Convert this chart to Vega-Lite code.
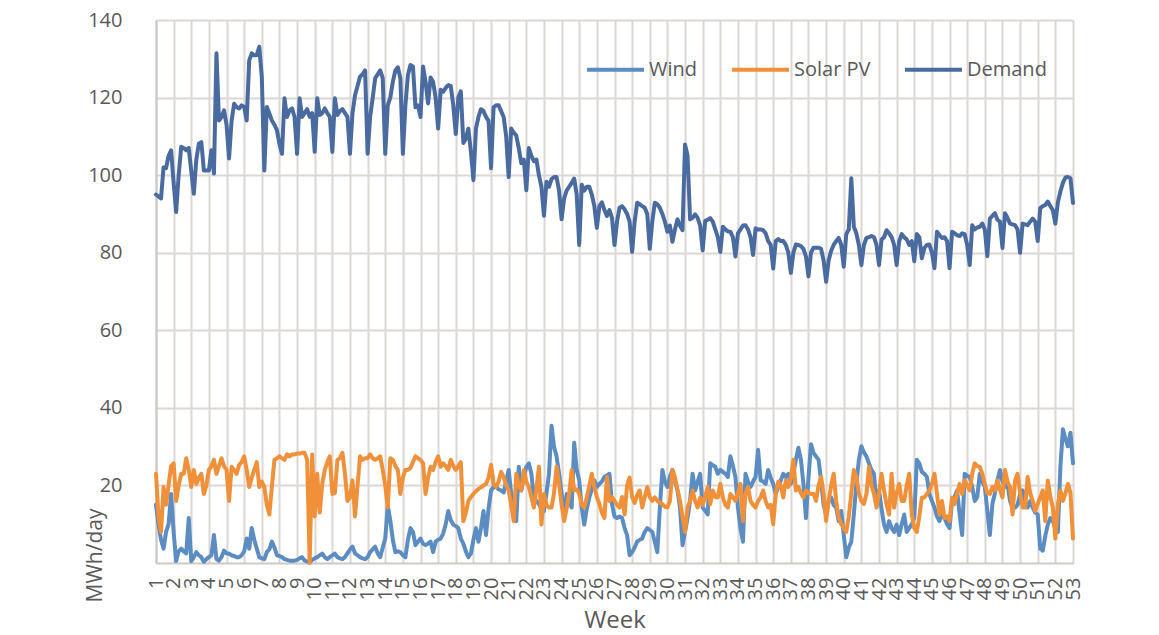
{
"$schema":"https://vega.github.io/schema/vega-lite/v6.json",
"width":917,"height":543,
"autosize":{"type":"none"},
"padding":{"left":156,"top":20,"right":86,"bottom":72},
"background":"white",
"config":{"view":{"stroke":null},"font":"Open Sans"},
"data":{"values":[
{"d":0,"Wind":15,"Solar PV":23,"Demand":95},{"d":1,"Wind":10,"Solar PV":12,"Demand":94.5},{"d":2,"Wind":6,"Solar PV":8,"Demand":94},{"d":3,"Wind":3.7,"Solar PV":19.6,"Demand":102},{"d":4,"Wind":8,"Solar PV":15,"Demand":101.8},{"d":5,"Wind":10,"Solar PV":20,"Demand":105},{"d":6,"Wind":17.8,"Solar PV":25,"Demand":106.4},
{"d":7,"Wind":8,"Solar PV":25.7,"Demand":98},{"d":8,"Wind":0.5,"Solar PV":16,"Demand":90.5},{"d":9,"Wind":3,"Solar PV":20,"Demand":100},{"d":10,"Wind":3.7,"Solar PV":23,"Demand":107.3},{"d":11,"Wind":3,"Solar PV":23,"Demand":107},{"d":12,"Wind":2.5,"Solar PV":27,"Demand":106.4},{"d":13,"Wind":11.6,"Solar PV":24,"Demand":107},
{"d":14,"Wind":0.5,"Solar PV":19.6,"Demand":101},{"d":15,"Wind":1.5,"Solar PV":24,"Demand":95.2},{"d":16,"Wind":2.8,"Solar PV":20.4,"Demand":104},{"d":17,"Wind":2,"Solar PV":22,"Demand":108.1},{"d":18,"Wind":1.5,"Solar PV":23,"Demand":108.5},{"d":19,"Wind":0.3,"Solar PV":17.8,"Demand":101.2},{"d":20,"Wind":1,"Solar PV":20,"Demand":101.2},
{"d":21,"Wind":1.5,"Solar PV":24,"Demand":101.2},{"d":22,"Wind":2,"Solar PV":25,"Demand":106.4},{"d":23,"Wind":7.2,"Solar PV":26.6,"Demand":100.4},{"d":24,"Wind":1,"Solar PV":23,"Demand":131.4},{"d":25,"Wind":0.6,"Solar PV":25,"Demand":114.1},{"d":26,"Wind":1.5,"Solar PV":27,"Demand":115},{"d":27,"Wind":3.2,"Solar PV":25,"Demand":116.7},
{"d":28,"Wind":2.5,"Solar PV":24,"Demand":113},{"d":29,"Wind":2.4,"Solar PV":16,"Demand":104.3},{"d":30,"Wind":2,"Solar PV":24.8,"Demand":114},{"d":31,"Wind":1.8,"Solar PV":24,"Demand":118.4},{"d":32,"Wind":1.5,"Solar PV":23,"Demand":117.5},{"d":33,"Wind":1.5,"Solar PV":25.3,"Demand":117.2},{"d":34,"Wind":2,"Solar PV":26,"Demand":118},
{"d":35,"Wind":3,"Solar PV":27.5,"Demand":117.6},{"d":36,"Wind":6.3,"Solar PV":24,"Demand":114.1},{"d":37,"Wind":3.7,"Solar PV":19.6,"Demand":129.6},{"d":38,"Wind":9,"Solar PV":22,"Demand":131.4},{"d":39,"Wind":6,"Solar PV":24,"Demand":130.9},{"d":40,"Wind":3.7,"Solar PV":26,"Demand":131},{"d":41,"Wind":1.5,"Solar PV":19.6,"Demand":133.1},
{"d":42,"Wind":1.2,"Solar PV":21,"Demand":125.3},{"d":43,"Wind":1,"Solar PV":19.6,"Demand":101.2},{"d":44,"Wind":2.8,"Solar PV":15,"Demand":117.6},{"d":45,"Wind":3.5,"Solar PV":12.5,"Demand":115.9},{"d":46,"Wind":5.5,"Solar PV":19.6,"Demand":114.1},{"d":47,"Wind":4,"Solar PV":26.6,"Demand":113},{"d":48,"Wind":2,"Solar PV":27,"Demand":111.6},
{"d":49,"Wind":1.8,"Solar PV":27.5,"Demand":108},{"d":50,"Wind":1.5,"Solar PV":27,"Demand":105.5},{"d":51,"Wind":1,"Solar PV":26.6,"Demand":119.8},{"d":52,"Wind":0.8,"Solar PV":28,"Demand":115},{"d":53,"Wind":0.6,"Solar PV":27.5,"Demand":116.7},{"d":54,"Wind":0.6,"Solar PV":28,"Demand":117.2},{"d":55,"Wind":0.6,"Solar PV":28,"Demand":115},
{"d":56,"Wind":0.8,"Solar PV":28.2,"Demand":105.5},{"d":57,"Wind":1.2,"Solar PV":28.2,"Demand":119.8},{"d":58,"Wind":1.5,"Solar PV":28.4,"Demand":115},{"d":59,"Wind":0.6,"Solar PV":28.4,"Demand":116},{"d":60,"Wind":0.4,"Solar PV":26.6,"Demand":117},{"d":61,"Wind":0.2,"Solar PV":0,"Demand":115},{"d":62,"Wind":0.8,"Solar PV":28,"Demand":116},
{"d":63,"Wind":1.2,"Solar PV":12,"Demand":106},{"d":64,"Wind":1.5,"Solar PV":23,"Demand":119.8},{"d":65,"Wind":2,"Solar PV":13,"Demand":115.5},{"d":66,"Wind":2.4,"Solar PV":20.4,"Demand":116},{"d":67,"Wind":1.5,"Solar PV":24,"Demand":117.2},{"d":68,"Wind":1,"Solar PV":26,"Demand":116},{"d":69,"Wind":1.5,"Solar PV":27.5,"Demand":115},
{"d":70,"Wind":2,"Solar PV":17.8,"Demand":106},{"d":71,"Wind":2.4,"Solar PV":18,"Demand":119.8},{"d":72,"Wind":1.5,"Solar PV":26.6,"Demand":115.5},{"d":73,"Wind":1.2,"Solar PV":27,"Demand":116.5},{"d":74,"Wind":1,"Solar PV":28.4,"Demand":117},{"d":75,"Wind":1.5,"Solar PV":23,"Demand":116},{"d":76,"Wind":2.5,"Solar PV":16,"Demand":115},
{"d":77,"Wind":3.5,"Solar PV":17,"Demand":105.5},{"d":78,"Wind":4.2,"Solar PV":21.3,"Demand":116},{"d":79,"Wind":2.5,"Solar PV":12,"Demand":120.6},{"d":80,"Wind":2,"Solar PV":20,"Demand":123},{"d":81,"Wind":1.5,"Solar PV":27.5,"Demand":125.4},{"d":82,"Wind":1.2,"Solar PV":26.6,"Demand":126},{"d":83,"Wind":1,"Solar PV":27,"Demand":127},
{"d":84,"Wind":1.5,"Solar PV":27,"Demand":105.5},{"d":85,"Wind":2.8,"Solar PV":28,"Demand":115},{"d":86,"Wind":3.5,"Solar PV":27,"Demand":119.8},{"d":87,"Wind":4.2,"Solar PV":26.6,"Demand":125},{"d":88,"Wind":2.5,"Solar PV":27,"Demand":126},{"d":89,"Wind":1.5,"Solar PV":27.5,"Demand":127},{"d":90,"Wind":4,"Solar PV":24,"Demand":125},
{"d":91,"Wind":6.3,"Solar PV":20,"Demand":105.5},{"d":92,"Wind":14.7,"Solar PV":14.3,"Demand":118},{"d":93,"Wind":11,"Solar PV":27,"Demand":120},{"d":94,"Wind":6,"Solar PV":26.6,"Demand":124},{"d":95,"Wind":2.8,"Solar PV":25,"Demand":127},{"d":96,"Wind":3,"Solar PV":24,"Demand":127.8},{"d":97,"Wind":2.8,"Solar PV":17.8,"Demand":125},
{"d":98,"Wind":2,"Solar PV":22,"Demand":105.5},{"d":99,"Wind":1.5,"Solar PV":24,"Demand":118},{"d":100,"Wind":6,"Solar PV":24,"Demand":125.8},{"d":101,"Wind":9,"Solar PV":24.5,"Demand":128.4},{"d":102,"Wind":8,"Solar PV":26,"Demand":128},{"d":103,"Wind":4.6,"Solar PV":27.5,"Demand":117.5},{"d":104,"Wind":5.5,"Solar PV":27,"Demand":118},
{"d":105,"Wind":6.3,"Solar PV":26.6,"Demand":115},{"d":106,"Wind":5,"Solar PV":25.7,"Demand":128},{"d":107,"Wind":4.6,"Solar PV":17.8,"Demand":124},{"d":108,"Wind":5,"Solar PV":22,"Demand":118.5},{"d":109,"Wind":5.5,"Solar PV":24.8,"Demand":125.2},{"d":110,"Wind":2.8,"Solar PV":24,"Demand":124},{"d":111,"Wind":5.5,"Solar PV":26,"Demand":120},
{"d":112,"Wind":6,"Solar PV":27.5,"Demand":112},{"d":113,"Wind":6.3,"Solar PV":24.8,"Demand":122},{"d":114,"Wind":7.6,"Solar PV":25.7,"Demand":121.5},{"d":115,"Wind":10,"Solar PV":25,"Demand":122.5},{"d":116,"Wind":13.4,"Solar PV":24,"Demand":123.2},{"d":117,"Wind":11,"Solar PV":26.6,"Demand":123},{"d":118,"Wind":9.9,"Solar PV":25,"Demand":118},
{"d":119,"Wind":9.5,"Solar PV":24,"Demand":110.6},{"d":120,"Wind":9,"Solar PV":25,"Demand":120},{"d":121,"Wind":6.3,"Solar PV":26,"Demand":121.6},{"d":122,"Wind":5,"Solar PV":10.8,"Demand":108.3},{"d":123,"Wind":3,"Solar PV":13,"Demand":109.4},{"d":124,"Wind":1.5,"Solar PV":16,"Demand":112},{"d":125,"Wind":2.4,"Solar PV":17,"Demand":106},
{"d":126,"Wind":6,"Solar PV":17.8,"Demand":98.7},{"d":127,"Wind":9,"Solar PV":18.5,"Demand":112},{"d":128,"Wind":5.5,"Solar PV":19.1,"Demand":115},{"d":129,"Wind":9,"Solar PV":19.5,"Demand":117},{"d":130,"Wind":13.4,"Solar PV":20,"Demand":116.5},{"d":131,"Wind":7.2,"Solar PV":20.4,"Demand":115},{"d":132,"Wind":14,"Solar PV":22,"Demand":114},
{"d":133,"Wind":18.7,"Solar PV":25.3,"Demand":101.8},{"d":134,"Wind":19.6,"Solar PV":20.4,"Demand":117.5},{"d":135,"Wind":19.6,"Solar PV":19.6,"Demand":118},{"d":136,"Wind":19,"Solar PV":21,"Demand":118},{"d":137,"Wind":18.7,"Solar PV":23.5,"Demand":116.5},{"d":138,"Wind":18.2,"Solar PV":22.2,"Demand":115},{"d":139,"Wind":21,"Solar PV":20,"Demand":110},
{"d":140,"Wind":24,"Solar PV":18.7,"Demand":99.5},{"d":141,"Wind":17.8,"Solar PV":15,"Demand":112},{"d":142,"Wind":12,"Solar PV":10.8,"Demand":111},{"d":143,"Wind":10.8,"Solar PV":23,"Demand":110.2},{"d":144,"Wind":24.8,"Solar PV":20,"Demand":107},{"d":145,"Wind":18.7,"Solar PV":18.7,"Demand":103.1},{"d":146,"Wind":22,"Solar PV":24,"Demand":104},
{"d":147,"Wind":24.8,"Solar PV":21,"Demand":96.1},{"d":148,"Wind":25.7,"Solar PV":19.6,"Demand":107},{"d":149,"Wind":23,"Solar PV":17,"Demand":105},{"d":150,"Wind":16.9,"Solar PV":14.3,"Demand":103.6},{"d":151,"Wind":16,"Solar PV":19,"Demand":104},{"d":152,"Wind":15.2,"Solar PV":24.8,"Demand":100},{"d":153,"Wind":14,"Solar PV":9.9,"Demand":97},
{"d":154,"Wind":13.4,"Solar PV":17.8,"Demand":89.5},{"d":155,"Wind":18,"Solar PV":15,"Demand":98.3},{"d":156,"Wind":23,"Solar PV":14.3,"Demand":97},{"d":157,"Wind":35.4,"Solar PV":14.3,"Demand":99},{"d":158,"Wind":30,"Solar PV":18,"Demand":99.5},{"d":159,"Wind":27.5,"Solar PV":24.8,"Demand":99.5},{"d":160,"Wind":23,"Solar PV":20.4,"Demand":96},
{"d":161,"Wind":18,"Solar PV":15,"Demand":88.6},{"d":162,"Wind":12.5,"Solar PV":10.8,"Demand":94},{"d":163,"Wind":17.8,"Solar PV":14,"Demand":96},{"d":164,"Wind":16,"Solar PV":17.8,"Demand":97},{"d":165,"Wind":14.3,"Solar PV":24,"Demand":98},{"d":166,"Wind":31,"Solar PV":18.7,"Demand":99.1},{"d":167,"Wind":24,"Solar PV":19,"Demand":95},
{"d":168,"Wind":21.3,"Solar PV":17.8,"Demand":82},{"d":169,"Wind":14.3,"Solar PV":15,"Demand":97.5},{"d":170,"Wind":9.9,"Solar PV":14.3,"Demand":96},{"d":171,"Wind":14,"Solar PV":16.9,"Demand":97},{"d":172,"Wind":16.9,"Solar PV":20,"Demand":97},{"d":173,"Wind":19,"Solar PV":23,"Demand":95},{"d":174,"Wind":21.3,"Solar PV":19.6,"Demand":92},
{"d":175,"Wind":19.6,"Solar PV":17,"Demand":86.4},{"d":176,"Wind":20.4,"Solar PV":15.2,"Demand":92},{"d":177,"Wind":21,"Solar PV":13,"Demand":93},{"d":178,"Wind":22.2,"Solar PV":11.6,"Demand":91},{"d":179,"Wind":22.6,"Solar PV":22.2,"Demand":89.5},{"d":180,"Wind":23,"Solar PV":16,"Demand":91},{"d":181,"Wind":15.2,"Solar PV":17,"Demand":89},
{"d":182,"Wind":12,"Solar PV":16,"Demand":82},{"d":183,"Wind":11.6,"Solar PV":15,"Demand":88},{"d":184,"Wind":12,"Solar PV":14.3,"Demand":91.6},{"d":185,"Wind":11.6,"Solar PV":17,"Demand":92},{"d":186,"Wind":9,"Solar PV":12.5,"Demand":91.2},{"d":187,"Wind":7.2,"Solar PV":20,"Demand":90},{"d":188,"Wind":2,"Solar PV":22,"Demand":88},
{"d":189,"Wind":2.8,"Solar PV":17,"Demand":80.2},{"d":190,"Wind":4,"Solar PV":15.5,"Demand":88},{"d":191,"Wind":5.5,"Solar PV":17.5,"Demand":92.9},{"d":192,"Wind":6,"Solar PV":18.7,"Demand":92.5},{"d":193,"Wind":6.3,"Solar PV":14.3,"Demand":92},{"d":194,"Wind":8,"Solar PV":17,"Demand":91.6},{"d":195,"Wind":9,"Solar PV":19.6,"Demand":90},
{"d":196,"Wind":8.5,"Solar PV":17,"Demand":81},{"d":197,"Wind":8,"Solar PV":16,"Demand":88},{"d":198,"Wind":5.5,"Solar PV":16.9,"Demand":92.9},{"d":199,"Wind":2.8,"Solar PV":16,"Demand":92.5},{"d":200,"Wind":14.3,"Solar PV":15.5,"Demand":91.6},{"d":201,"Wind":24,"Solar PV":15.2,"Demand":90},{"d":202,"Wind":21,"Solar PV":14.5,"Demand":88},
{"d":203,"Wind":19.6,"Solar PV":14.3,"Demand":85.4},{"d":204,"Wind":22.2,"Solar PV":16,"Demand":87},{"d":205,"Wind":24,"Solar PV":24,"Demand":82.8},{"d":206,"Wind":21,"Solar PV":22,"Demand":86},{"d":207,"Wind":18.7,"Solar PV":19,"Demand":88.6},{"d":208,"Wind":14.3,"Solar PV":16,"Demand":87},{"d":209,"Wind":4.6,"Solar PV":12,"Demand":85.8},
{"d":210,"Wind":8,"Solar PV":8,"Demand":107.9},{"d":211,"Wind":11.6,"Solar PV":14.3,"Demand":105},{"d":212,"Wind":16,"Solar PV":16,"Demand":88.6},{"d":213,"Wind":23,"Solar PV":18.7,"Demand":89},{"d":214,"Wind":18.7,"Solar PV":16,"Demand":89.9},{"d":215,"Wind":21,"Solar PV":14.3,"Demand":89},{"d":216,"Wind":23,"Solar PV":16.9,"Demand":87},
{"d":217,"Wind":14.3,"Solar PV":15,"Demand":80.6},{"d":218,"Wind":13.5,"Solar PV":17,"Demand":88.2},{"d":219,"Wind":12.5,"Solar PV":19.6,"Demand":88.5},{"d":220,"Wind":25.7,"Solar PV":15.2,"Demand":88.9},{"d":221,"Wind":25.2,"Solar PV":18.7,"Demand":88},{"d":222,"Wind":24.8,"Solar PV":17,"Demand":86},{"d":223,"Wind":23,"Solar PV":16.9,"Demand":84},
{"d":224,"Wind":24,"Solar PV":20.4,"Demand":80.2},{"d":225,"Wind":23.5,"Solar PV":16.9,"Demand":86.7},{"d":226,"Wind":23,"Solar PV":15,"Demand":86},{"d":227,"Wind":22.2,"Solar PV":14.3,"Demand":85.5},{"d":228,"Wind":27.5,"Solar PV":17.8,"Demand":85.4},{"d":229,"Wind":25,"Solar PV":17,"Demand":84},{"d":230,"Wind":22.2,"Solar PV":16,"Demand":79},
{"d":231,"Wind":14.3,"Solar PV":18,"Demand":85},{"d":232,"Wind":9,"Solar PV":20.4,"Demand":86},{"d":233,"Wind":5.5,"Solar PV":10.8,"Demand":87},{"d":234,"Wind":23,"Solar PV":18,"Demand":87.1},{"d":235,"Wind":21,"Solar PV":19.6,"Demand":86},{"d":236,"Wind":19.6,"Solar PV":16,"Demand":84},{"d":237,"Wind":21,"Solar PV":15,"Demand":79.4},
{"d":238,"Wind":22.2,"Solar PV":14.3,"Demand":86.3},{"d":239,"Wind":29.2,"Solar PV":16,"Demand":86},{"d":240,"Wind":21.3,"Solar PV":16.9,"Demand":86},{"d":241,"Wind":21,"Solar PV":18.7,"Demand":85.8},{"d":242,"Wind":20.4,"Solar PV":16,"Demand":85},{"d":243,"Wind":24,"Solar PV":14.3,"Demand":83},{"d":244,"Wind":22,"Solar PV":15,"Demand":82},
{"d":245,"Wind":20.4,"Solar PV":10,"Demand":75.9},{"d":246,"Wind":17.8,"Solar PV":17.8,"Demand":83},{"d":247,"Wind":19.5,"Solar PV":21,"Demand":83.5},{"d":248,"Wind":21.3,"Solar PV":20,"Demand":83},{"d":249,"Wind":23,"Solar PV":16.9,"Demand":83},{"d":250,"Wind":22.2,"Solar PV":21.3,"Demand":82},{"d":251,"Wind":23,"Solar PV":19.6,"Demand":80},
{"d":252,"Wind":20.4,"Solar PV":22,"Demand":74.8},{"d":253,"Wind":23,"Solar PV":26.6,"Demand":80},{"d":254,"Wind":26.6,"Solar PV":18.7,"Demand":82.1},{"d":255,"Wind":29.7,"Solar PV":19.6,"Demand":82},{"d":256,"Wind":26.6,"Solar PV":18,"Demand":81.7},{"d":257,"Wind":20.4,"Solar PV":16.9,"Demand":81},{"d":258,"Wind":11.6,"Solar PV":18.7,"Demand":79},
{"d":259,"Wind":22,"Solar PV":18,"Demand":73.9},{"d":260,"Wind":30.6,"Solar PV":17.8,"Demand":80},{"d":261,"Wind":28.4,"Solar PV":17.8,"Demand":81.3},{"d":262,"Wind":27.5,"Solar PV":16,"Demand":81.3},{"d":263,"Wind":26.6,"Solar PV":20,"Demand":81.3},{"d":264,"Wind":21.3,"Solar PV":22.2,"Demand":81},{"d":265,"Wind":15,"Solar PV":17.8,"Demand":78},
{"d":266,"Wind":12.5,"Solar PV":10.8,"Demand":72.5},{"d":267,"Wind":16,"Solar PV":16,"Demand":78},{"d":268,"Wind":16.9,"Solar PV":20,"Demand":80.5},{"d":269,"Wind":15,"Solar PV":23,"Demand":82},{"d":270,"Wind":14.3,"Solar PV":16,"Demand":83},{"d":271,"Wind":10.8,"Solar PV":11.6,"Demand":83.8},{"d":272,"Wind":13.4,"Solar PV":10,"Demand":82},
{"d":273,"Wind":7.2,"Solar PV":9,"Demand":76.4},{"d":274,"Wind":1.5,"Solar PV":8,"Demand":84.8},{"d":275,"Wind":4,"Solar PV":12,"Demand":86},{"d":276,"Wind":5.5,"Solar PV":18,"Demand":99.2},{"d":277,"Wind":12.5,"Solar PV":24,"Demand":86.7},{"d":278,"Wind":20.4,"Solar PV":22.2,"Demand":85},{"d":279,"Wind":26.6,"Solar PV":18,"Demand":82},
{"d":280,"Wind":30.1,"Solar PV":16,"Demand":76.8},{"d":281,"Wind":28.5,"Solar PV":15.2,"Demand":82},{"d":282,"Wind":27.5,"Solar PV":17.8,"Demand":83.8},{"d":283,"Wind":25.7,"Solar PV":24.8,"Demand":84},{"d":284,"Wind":24,"Solar PV":20,"Demand":84.3},{"d":285,"Wind":23,"Solar PV":17.8,"Demand":84},{"d":286,"Wind":15.2,"Solar PV":14.3,"Demand":82},
{"d":287,"Wind":18.7,"Solar PV":18,"Demand":76.8},{"d":288,"Wind":14,"Solar PV":23,"Demand":83.4},{"d":289,"Wind":9.9,"Solar PV":18.7,"Demand":84},{"d":290,"Wind":8,"Solar PV":15,"Demand":85.8},{"d":291,"Wind":10.8,"Solar PV":12.5,"Demand":85},{"d":292,"Wind":9,"Solar PV":23,"Demand":84},{"d":293,"Wind":8,"Solar PV":14.3,"Demand":82},
{"d":294,"Wind":9.9,"Solar PV":18,"Demand":76.8},{"d":295,"Wind":7.2,"Solar PV":20.4,"Demand":83},{"d":296,"Wind":10,"Solar PV":16,"Demand":84.8},{"d":297,"Wind":12.5,"Solar PV":16,"Demand":84},{"d":298,"Wind":8,"Solar PV":20,"Demand":83.4},{"d":299,"Wind":9,"Solar PV":23,"Demand":82},{"d":300,"Wind":10,"Solar PV":12.5,"Demand":83},
{"d":301,"Wind":11.6,"Solar PV":9,"Demand":77.8},{"d":302,"Wind":26.6,"Solar PV":8,"Demand":84.8},{"d":303,"Wind":25.7,"Solar PV":12,"Demand":84},{"d":304,"Wind":23.5,"Solar PV":16.9,"Demand":78.6},{"d":305,"Wind":23,"Solar PV":16.9,"Demand":81.2},{"d":306,"Wind":22.2,"Solar PV":17.8,"Demand":82},{"d":307,"Wind":17.8,"Solar PV":18.7,"Demand":82.1},
{"d":308,"Wind":16,"Solar PV":20.4,"Demand":80},{"d":309,"Wind":14.3,"Solar PV":23,"Demand":76},{"d":310,"Wind":12,"Solar PV":18,"Demand":85.4},{"d":311,"Wind":10.8,"Solar PV":12.5,"Demand":84.5},{"d":312,"Wind":12.5,"Solar PV":16,"Demand":83.8},{"d":313,"Wind":11.6,"Solar PV":11.6,"Demand":84},{"d":314,"Wind":10,"Solar PV":12,"Demand":83},
{"d":315,"Wind":9,"Solar PV":10.8,"Demand":76},{"d":316,"Wind":16,"Solar PV":16.9,"Demand":85.4},{"d":317,"Wind":17,"Solar PV":15.2,"Demand":85},{"d":318,"Wind":18.7,"Solar PV":18,"Demand":84.5},{"d":319,"Wind":12.5,"Solar PV":20.4,"Demand":84.3},{"d":320,"Wind":7.2,"Solar PV":17.8,"Demand":85},{"d":321,"Wind":23,"Solar PV":21.3,"Demand":84.8},
{"d":322,"Wind":22.5,"Solar PV":20,"Demand":82},{"d":323,"Wind":22.2,"Solar PV":18.7,"Demand":76.8},{"d":324,"Wind":19.6,"Solar PV":23,"Demand":87.1},{"d":325,"Wind":16,"Solar PV":25.7,"Demand":86},{"d":326,"Wind":17,"Solar PV":25,"Demand":86.5},{"d":327,"Wind":23,"Solar PV":24.8,"Demand":86.7},{"d":328,"Wind":21,"Solar PV":23,"Demand":87.5},
{"d":329,"Wind":19.6,"Solar PV":20.4,"Demand":86},{"d":330,"Wind":13.4,"Solar PV":18,"Demand":79.1},{"d":331,"Wind":7.2,"Solar PV":17.8,"Demand":88.8},{"d":332,"Wind":15.2,"Solar PV":19.6,"Demand":89.5},{"d":333,"Wind":18,"Solar PV":18.7,"Demand":90.2},{"d":334,"Wind":21.3,"Solar PV":21.3,"Demand":88.5},{"d":335,"Wind":24,"Solar PV":19,"Demand":88},
{"d":336,"Wind":21,"Solar PV":16.9,"Demand":81.2},{"d":337,"Wind":19.6,"Solar PV":24,"Demand":90.2},{"d":338,"Wind":20.4,"Solar PV":21,"Demand":89},{"d":339,"Wind":16,"Solar PV":19.6,"Demand":87.5},{"d":340,"Wind":14.3,"Solar PV":12.5,"Demand":87.3},{"d":341,"Wind":14.3,"Solar PV":21.3,"Demand":87.1},{"d":342,"Wind":15,"Solar PV":23,"Demand":86},
{"d":343,"Wind":17.8,"Solar PV":18,"Demand":80},{"d":344,"Wind":18.7,"Solar PV":14.3,"Demand":87.5},{"d":345,"Wind":16,"Solar PV":14.3,"Demand":87.3},{"d":346,"Wind":14.3,"Solar PV":22.2,"Demand":87.1},{"d":347,"Wind":16,"Solar PV":18,"Demand":88},{"d":348,"Wind":14.3,"Solar PV":16,"Demand":88.8},{"d":349,"Wind":13,"Solar PV":13.4,"Demand":88},
{"d":350,"Wind":12.5,"Solar PV":15.2,"Demand":83},{"d":351,"Wind":3.7,"Solar PV":17,"Demand":91.5},{"d":352,"Wind":3.2,"Solar PV":18.7,"Demand":92},{"d":353,"Wind":7,"Solar PV":10.8,"Demand":92.3},{"d":354,"Wind":9.9,"Solar PV":21.3,"Demand":93.2},{"d":355,"Wind":11.6,"Solar PV":17,"Demand":92},{"d":356,"Wind":10.8,"Solar PV":14.3,"Demand":91},
{"d":357,"Wind":9,"Solar PV":6.3,"Demand":87.5},{"d":358,"Wind":8,"Solar PV":15.2,"Demand":93},{"d":359,"Wind":24.8,"Solar PV":18.7,"Demand":95.8},{"d":360,"Wind":34.5,"Solar PV":16,"Demand":98},{"d":361,"Wind":32,"Solar PV":18,"Demand":99.4},{"d":362,"Wind":30.1,"Solar PV":20.4,"Demand":99.5},{"d":363,"Wind":33.6,"Solar PV":18,"Demand":99.2},
{"d":364,"Wind":25.7,"Solar PV":6.3,"Demand":92.8}
]},
"transform":[{"fold":["Wind","Solar PV","Demand"],"as":["series","value"]}],
"mark":{"type":"line","strokeWidth":4,"strokeJoin":"round","strokeCap":"round"},
"encoding":{
"x":{"field":"d","type":"quantitative","scale":{"domain":[0,364],"nice":false,"zero":false},
"axis":{"values":[0,7,14,21,28,35,42,49,56,63,70,77,84,91,98,105,112,119,126,133,140,147,154,161,168,175,182,189,196,203,210,217,224,231,238,245,252,259,266,273,280,287,294,301,308,315,322,329,336,343,350,357,364],
"labelExpr":"format(datum.value/7+1,'d')","labelAngle":270,"labelFontSize":20,"labelFont":"Open Sans","labelColor":"#595959","labelOverlap":false,"labelBound":false,"labelFlush":false,"labelPadding":14,
"ticks":false,"grid":true,"gridColor":"#dcd7d3","gridWidth":2,"domainColor":"#cfc8c3","domainWidth":2,
"title":"Week","titleFont":"Open Sans","titleFontSize":24,"titleFontWeight":"normal","titleColor":"#595959","titleY":64,"titleBaseline":"alphabetic"}},
"y":{"field":"value","type":"quantitative","scale":{"domain":[0,140],"nice":false},
"axis":{"values":[20,40,60,80,100,120,140],"labelFontSize":20,"labelFont":"Open Sans","labelColor":"#595959","labelPadding":34,
"ticks":false,"grid":true,"gridColor":"#dcd7d3","gridWidth":2,"domainColor":"#cfc8c3","domainWidth":2,
"title":"MWh/day","titleFont":"Open Sans","titleFontSize":21,"titleFontWeight":"normal","titleColor":"#595959","titleX":-61,"titleY":535,"titleAngle":270,"titleAlign":"center","titleBaseline":"middle"}},
"color":{"field":"series","type":"nominal","sort":["Wind","Solar PV","Demand"],
"scale":{"domain":["Wind","Solar PV","Demand"],"range":["#5b8dc2","#f0913a","#4a6b9f"]},
"legend":{"orient":"none","legendX":429,"legendY":19,"direction":"horizontal","title":null,"symbolType":"stroke","symbolSize":3249,"symbolStrokeWidth":4,
"labelFontSize":20,"labelFont":"Open Sans","labelColor":"#595959","labelOffset":3,"columnPadding":26,"padding":0}}
}
}
